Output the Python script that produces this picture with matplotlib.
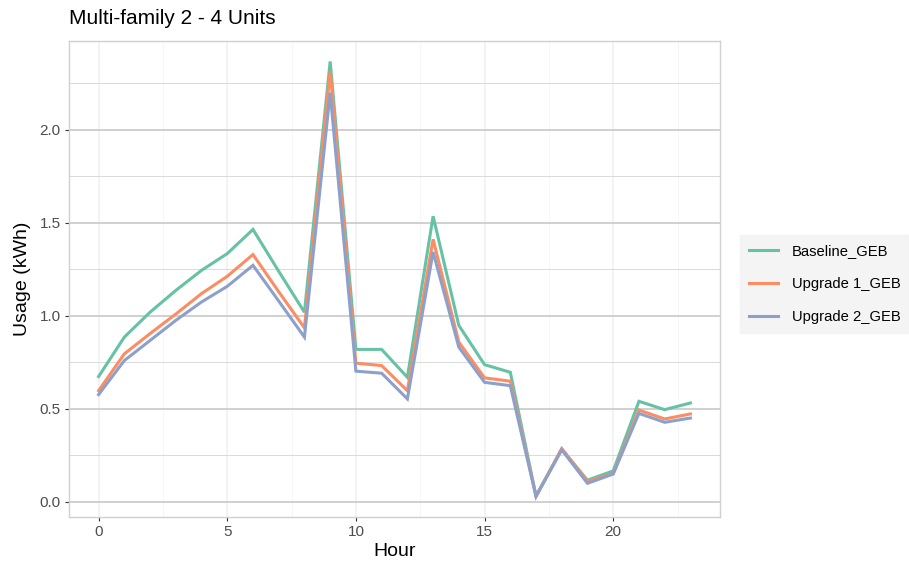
import matplotlib.pyplot as plt
from matplotlib.ticker import MultipleLocator

plt.rcParams['font.family'] = ['Liberation Sans', 'DejaVu Sans']

hours = list(range(24))

baseline = [0.674, 0.886, 1.02, 1.137, 1.245, 1.335, 1.465, 1.24, 1.02, 2.368,
            0.82, 0.82, 0.67, 1.536, 0.949, 0.738, 0.697, 0.032, 0.284, 0.117,
            0.167, 0.541, 0.496, 0.532]
upgrade1 = [0.598, 0.796, 0.905, 1.01, 1.12, 1.213, 1.33, 1.13, 0.936, 2.315,
            0.746, 0.733, 0.598, 1.412, 0.859, 0.667, 0.649, 0.03, 0.287, 0.11,
            0.153, 0.494, 0.446, 0.473]
upgrade2 = [0.577, 0.76, 0.868, 0.976, 1.075, 1.159, 1.272, 1.08, 0.886, 2.2,
            0.703, 0.692, 0.554, 1.344, 0.832, 0.643, 0.625, 0.03, 0.28, 0.10,
            0.15, 0.476, 0.428, 0.451]

names = ['Baseline_GEB', 'Upgrade 1_GEB', 'Upgrade 2_GEB']
colors = ['#66C2A5', '#FC8D62', '#8DA0CB']

fig = plt.figure(figsize=(9.09, 5.7), dpi=100)
ax = fig.add_axes([69 / 909, 1 - 517 / 570, 651 / 909, 476 / 570])

for ys, name, c in zip([baseline, upgrade1, upgrade2], names, colors):
    ax.plot(hours, ys, color=c, lw=2.2, label=name, solid_joinstyle='miter')

ax.set_xlim(-1.15, 24.15)
ax.set_ylim(-0.081, 2.478)
ax.xaxis.set_major_locator(MultipleLocator(5))
ax.xaxis.set_minor_locator(MultipleLocator(2.5))
ax.yaxis.set_major_locator(MultipleLocator(0.5))
ax.yaxis.set_minor_locator(MultipleLocator(0.25))
ax.yaxis.set_major_formatter(lambda v, p: f'{v:.1f}')

ax.grid(which='major', axis='y', color='#C4C4C4', lw=1.1)
ax.grid(which='minor', axis='y', color='#DADADA', lw=0.7)
ax.grid(which='major', axis='x', color='#F0F0F0', lw=1.1)
ax.grid(which='minor', axis='x', color='#F6F6F6', lw=0.7)
ax.set_axisbelow(True)
for s in ax.spines.values():
    s.set_color('#D0D0D0')
    s.set_linewidth(1.0)

ax.tick_params(which='major', length=3, color='#333333', labelsize=11,
               labelcolor='#4D4D4D', pad=3)
ax.tick_params(which='minor', length=0)

ax.set_xlabel('Hour', fontsize=14, labelpad=3)
ax.set_ylabel('Usage (kWh)', fontsize=14, labelpad=6)
fig.text(69 / 909, 1 - 18 / 570, 'Multi-family 2 - 4 Units', fontsize=15,
         ha='left', va='center')

leg = fig.legend(*ax.get_legend_handles_labels(), loc='center left',
                 bbox_to_anchor=(740 / 909, 1 - 284 / 570), frameon=True,
                 fontsize=10.6, handlelength=2.0, handletextpad=0.9,
                 labelspacing=1.3, borderpad=0.6, borderaxespad=0,
                 fancybox=False)
leg.get_frame().set_facecolor('#F2F2F2')
leg.get_frame().set_edgecolor('#F2F2F2')

fig.savefig('out.png', dpi=100)
